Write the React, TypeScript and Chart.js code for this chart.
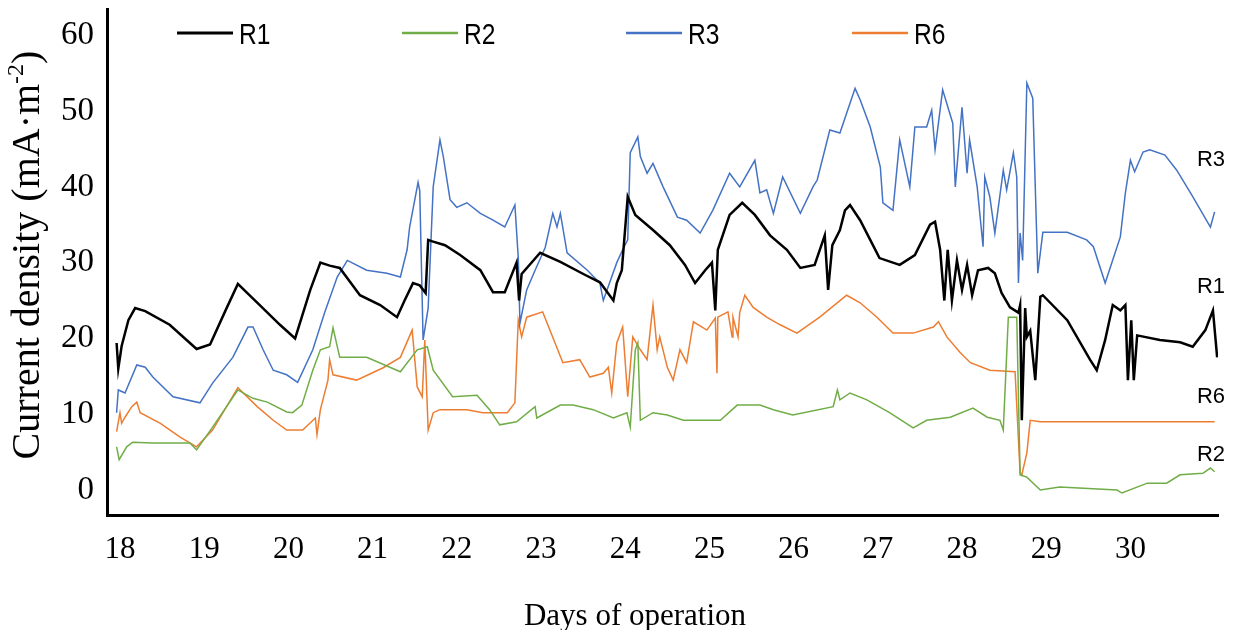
import React, { useEffect, useRef } from "react";
import { Chart, registerables } from "chart.js";

Chart.register(...registerables);

// ---- Data (days of operation, current density mA·m-2) ----
const r1Days = [17.96,17.98,18.02,18.10,18.18,18.30,18.59,18.91,19.07,19.25,19.40,19.66,19.90,20.08,20.26,20.38,20.49,20.61,20.85,21.09,21.29,21.38,21.48,21.56,21.63,21.66,21.71,21.86,22.04,22.28,22.43,22.57,22.71,22.74,22.77,22.99,23.23,23.52,23.70,23.86,23.90,23.96,24.03,24.12,24.33,24.53,24.71,24.83,24.95,25.03,25.07,25.10,25.24,25.39,25.54,25.72,25.92,26.08,26.25,26.37,26.41,26.46,26.55,26.61,26.67,26.79,26.91,27.02,27.26,27.44,27.62,27.68,27.74,27.79,27.83,27.88,27.94,28.00,28.06,28.12,28.19,28.31,28.39,28.47,28.57,28.67,28.69,28.71,28.75,28.77,28.81,28.87,28.93,28.96,29.25,29.52,29.60,29.70,29.79,29.88,29.94,29.97,30.01,30.04,30.08,30.35,30.59,30.74,30.89,30.98,31.03];
const r1Vals = [19.4,16.0,19.0,22.4,24.0,23.6,21.8,18.6,19.2,23.6,27.2,24.4,21.8,20.0,26.4,30.0,29.6,29.3,25.7,24.4,22.8,25.0,27.3,27.0,26.0,33.0,32.8,32.3,31.0,29.0,26.1,26.1,30.0,25.0,28.5,31.3,30.1,28.4,27.4,25.0,27.3,29.0,38.7,36.3,34.3,32.3,29.7,27.3,29.0,30.0,23.7,31.7,36.3,37.9,36.3,33.6,31.7,29.3,29.7,33.6,26.4,32.3,34.3,36.9,37.6,35.6,33.0,30.6,29.7,31.0,35.0,35.4,31.7,25.0,31.7,25.0,30.3,26.4,29.7,25.7,29.0,29.3,28.6,26.0,24.1,23.4,24.4,9.2,24.0,20.2,21.0,14.5,25.5,25.7,22.4,17.2,15.8,19.8,24.4,23.7,24.4,14.5,22.4,14.5,20.4,19.8,19.5,18.9,21.1,23.7,17.5];

const r2Days = [17.96,17.99,18.08,18.15,18.39,18.83,18.91,19.10,19.40,19.58,19.75,19.98,20.05,20.16,20.29,20.38,20.49,20.53,20.61,20.93,21.33,21.53,21.65,21.72,21.95,22.24,22.39,22.51,22.71,22.93,22.95,23.23,23.38,23.62,23.86,24.02,24.06,24.12,24.15,24.18,24.33,24.50,24.69,25.13,25.33,25.60,25.76,25.99,26.47,26.52,26.55,26.67,26.87,27.14,27.42,27.58,27.86,28.13,28.30,28.45,28.49,28.55,28.65,28.69,28.77,28.93,29.16,29.84,29.90,30.20,30.43,30.59,30.86,30.95,31.00];
const r2Vals = [5.7,4.0,5.7,6.3,6.2,6.2,5.3,8.3,13.2,12.1,11.6,10.3,10.2,11.2,15.8,18.5,18.9,21.4,17.5,17.5,15.6,18.5,18.9,15.8,12.3,12.5,10.6,8.6,9.0,11.0,9.5,11.2,11.2,10.6,9.5,10.2,8.3,18.5,19.4,9.2,10.2,9.9,9.2,9.2,11.2,11.2,10.6,9.9,11.0,13.2,11.9,12.8,11.9,10.2,8.2,9.2,9.6,10.8,9.6,9.2,7.9,22.8,22.8,2.0,1.7,0.0,0.4,0.0,-0.4,0.9,0.9,2.0,2.2,2.9,2.4];

const r3Days = [17.96,17.98,18.06,18.20,18.30,18.39,18.63,18.95,19.10,19.34,19.52,19.58,19.70,19.82,19.98,20.11,20.29,20.43,20.58,20.70,20.93,21.17,21.33,21.41,21.44,21.54,21.56,21.60,21.66,21.72,21.80,21.84,21.92,22.00,22.12,22.28,22.43,22.57,22.69,22.73,22.75,22.83,22.93,23.05,23.14,23.19,23.23,23.31,23.55,23.70,23.74,23.90,23.97,24.03,24.06,24.15,24.18,24.26,24.33,24.45,24.62,24.73,24.89,25.04,25.24,25.36,25.54,25.60,25.68,25.76,25.87,26.08,26.23,26.28,26.43,26.55,26.73,26.79,26.91,27.03,27.06,27.18,27.26,27.38,27.44,27.58,27.64,27.68,27.77,27.89,27.92,28.00,28.06,28.09,28.18,28.25,28.27,28.33,28.39,28.49,28.53,28.61,28.65,28.67,28.69,28.72,28.77,28.84,28.87,28.90,28.96,29.25,29.48,29.56,29.70,29.88,29.94,30.00,30.05,30.15,30.23,30.41,30.55,30.74,30.95,31.00];
const r3Vals = [10.2,13.2,12.8,16.5,16.2,14.9,12.3,11.5,14.1,17.5,21.5,21.5,18.5,15.8,15.2,14.2,18.5,23.4,28.1,30.3,29.0,28.6,28.1,31.7,34.7,40.6,39.5,19.8,24.0,40.0,46.2,44.0,38.3,37.3,37.9,36.5,35.6,34.7,37.6,30.7,22.0,26.4,29.0,32.0,36.5,34.7,36.5,31.3,29.0,27.3,25.0,30.0,31.7,33.0,44.5,46.6,44.0,41.8,43.1,40.0,36.0,35.6,33.9,36.9,41.8,40.0,43.5,39.2,39.6,36.5,41.3,36.5,40.0,40.9,47.5,47.1,53.0,51.5,47.9,42.6,37.9,36.9,46.2,40.0,47.9,47.9,50.1,44.9,52.8,48.4,40.0,50.5,41.8,46.2,40.0,32.1,41.3,38.7,33.9,42.2,39.6,44.5,41.3,27.3,33.9,30.3,53.7,51.7,40.0,28.6,34.0,34.0,33.0,32.1,27.3,33.4,39.2,43.5,42.0,44.6,44.9,44.2,42.2,38.7,34.7,36.7];

const r6Days = [17.96,18.00,18.02,18.06,18.14,18.20,18.24,18.48,18.71,18.91,19.10,19.40,19.63,19.82,19.98,20.17,20.32,20.34,20.38,20.47,20.49,20.53,20.81,21.12,21.33,21.47,21.53,21.59,21.62,21.66,21.72,21.80,22.12,22.31,22.60,22.69,22.73,22.77,22.83,23.02,23.26,23.46,23.58,23.74,23.80,23.84,23.90,23.97,24.03,24.09,24.18,24.26,24.33,24.38,24.41,24.50,24.57,24.65,24.73,24.81,24.97,25.07,25.09,25.10,25.22,25.27,25.28,25.34,25.36,25.42,25.52,25.68,25.84,26.04,26.31,26.63,26.79,26.99,27.18,27.42,27.66,27.72,27.82,27.98,28.10,28.33,28.63,28.69,28.71,28.77,28.81,28.93,31.00];
const r6Vals = [7.7,10.2,8.8,9.6,11.0,11.6,10.2,8.8,7.0,5.7,7.9,13.5,11.0,9.2,7.9,7.9,9.5,7.3,10.6,14.5,17.2,15.2,14.5,16.1,17.5,21.1,13.6,12.3,19.8,7.9,10.2,10.6,10.6,10.2,10.2,11.5,22.4,20.2,22.8,23.5,16.8,17.2,14.9,15.4,16.2,12.8,19.4,21.5,12.3,20.2,18.5,17.2,24.4,18.5,20.2,16.2,14.5,18.5,16.8,22.2,21.1,22.7,15.4,22.8,23.5,20.2,22.8,20.2,23.4,25.7,24.1,22.8,21.8,20.7,22.8,25.7,24.7,22.8,20.7,20.7,21.5,22.2,20.2,18.1,16.8,15.8,15.6,2.2,2.0,4.9,9.2,9.0,9.0];

const xTicks = [18, 19, 20, 21, 22, 23, 24, 25, 26, 27, 28, 29, 30];
const yTicks = [0, 10, 20, 30, 40, 50, 60];

const seriesNames = ["R1", "R2", "R3", "R6"];
const seriesColors = ["#000000", "#70AD47", "#4472C4", "#ED7D31"];
const seriesWidths = [2.5, 1.5, 1.5, 1.5];
const seriesDays = [r1Days, r2Days, r3Days, r6Days];
const seriesVals = [r1Vals, r2Vals, r3Vals, r6Vals];

// end-of-line labels: [name, value level]
const endLabelNames = ["R3", "R1", "R6", "R2"];
const endLabelLevels = [43.5, 26.8, 12.3, 4.6];

const xTitle = "Days of operation";
const yTitleMain = "Current density (mA·m";
const yTitleSup = "-2";
const yTitleEnd = ")";

const SERIF = "'Liberation Serif', 'Times New Roman', serif";
const SANS = "'Liberation Sans', Arial, sans-serif";

export default function App() {
  const ref = useRef<HTMLCanvasElement>(null);

  useEffect(() => {
    const canvas = ref.current;
    if (!canvas) return;

    const overlay = {
      id: "overlay",
      afterDraw(chart: any) {
        const c = chart.ctx as CanvasRenderingContext2D;
        c.save();
        // Legend
        const legendX = [169, 394, 618, 844];
        legendX.forEach((lx, i) => {
          c.strokeStyle = seriesColors[i];
          c.lineWidth = i === 0 ? 3 : 2.5;
          c.beginPath();
          c.moveTo(lx, 25);
          c.lineTo(lx + 56, 25);
          c.stroke();
          c.save();
          c.translate(lx + 62, 28);
          c.scale(0.82, 1);
          c.font = `30px ${SANS}`;
          c.fillStyle = "#000";
          c.textBaseline = "middle";
          c.textAlign = "left";
          c.fillText(seriesNames[i], 0, 0);
          c.restore();
        });
        // End labels
        const ys = chart.scales.y;
        c.font = `22px ${SANS}`;
        c.fillStyle = "#000";
        c.textAlign = "right";
        c.textBaseline = "middle";
        endLabelNames.forEach((n, i) => {
          c.fillText(n, 1217, ys.getPixelForValue(endLabelLevels[i]));
        });
        // X title
        c.font = `31px ${SERIF}`;
        c.textAlign = "center";
        c.textBaseline = "middle";
        c.fillText(xTitle, 627, 609);
        // Y title (rotated)
        c.save();
        c.translate(20, 247);
        c.rotate(-Math.PI / 2);
        const mainFont = `40px ${SERIF}`;
        const supFont = `24px ${SERIF}`;
        c.font = mainFont;
        const w1 = c.measureText(yTitleMain).width;
        const w3 = c.measureText(yTitleEnd).width;
        c.font = supFont;
        const w2 = c.measureText(yTitleSup).width;
        const total = w1 + w2 + w3;
        let x0 = -total / 2;
        c.textAlign = "left";
        c.textBaseline = "middle";
        c.font = mainFont;
        c.fillText(yTitleMain, x0, 0);
        x0 += w1;
        c.font = supFont;
        c.fillText(yTitleSup, x0, -11);
        x0 += w2;
        c.font = mainFont;
        c.fillText(yTitleEnd, x0, 0);
        c.restore();
        c.restore();
      },
    };

    const chart = new Chart(canvas, {
      type: "line",
      data: {
        datasets: seriesNames.map((name, i) => ({
          label: name,
          data: seriesDays[i].map((d, j) => ({ x: d, y: seriesVals[i][j] })),
          borderColor: seriesColors[i],
          backgroundColor: seriesColors[i],
          borderWidth: seriesWidths[i],
          pointRadius: 0,
          tension: 0,
          fill: false,
        })),
      },
      options: {
        responsive: false,
        animation: false,
        layout: { padding: { left: 0, right: 10, top: 0, bottom: 0 } },
        plugins: { legend: { display: false }, tooltip: { enabled: false } },
        scales: {
          x: {
            type: "linear",
            min: 17.846,
            max: 31.04,
            afterBuildTicks: (s: any) => {
              s.ticks = xTicks.map((v) => ({ value: v }));
            },
            afterFit: (s: any) => {
              s.height = 115;
              s.paddingLeft = 0;
              s.paddingRight = 0;
            },
            grid: { display: false, drawTicks: false, tickLength: 0 },
            border: { display: true, width: 3, color: "#000" },
            ticks: {
              color: "#000",
              font: { family: SERIF, size: 31 },
              padding: 16,
              maxRotation: 0,
              autoSkip: false,
              callback: (v: any) => String(v),
            },
          },
          y: {
            min: -3.3,
            max: 63.6,
            afterBuildTicks: (s: any) => {
              s.ticks = yTicks.map((v) => ({ value: v }));
            },
            afterFit: (s: any) => {
              s.width = 99;
              s.paddingTop = 0;
              s.paddingBottom = 0;
            },
            grid: { display: false, drawTicks: false, tickLength: 0 },
            border: { display: true, width: 3, color: "#000" },
            ticks: {
              color: "#000",
              font: { family: SERIF, size: 33 },
              padding: 13,
              autoSkip: false,
              callback: (v: any) => String(v),
            },
          },
        },
      },
      plugins: [overlay],
    } as any);

    return () => chart.destroy();
  }, []);

  return (
    <div style={{ width: 1220, height: 622 }}>
      <canvas ref={ref} width={1220} height={622} style={{ display: "block" }} />
    </div>
  );
}
